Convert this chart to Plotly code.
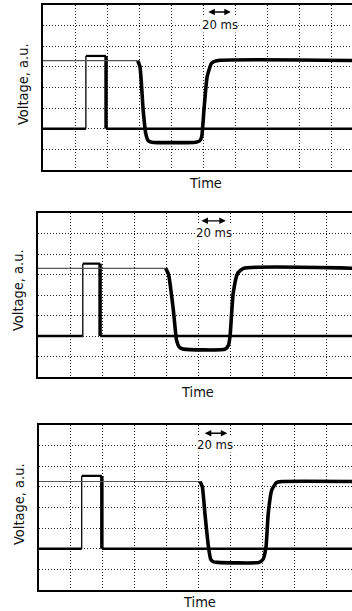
import plotly.graph_objects as go

W, H = 352, 611
FONT = "Liberation Sans Narrow, Arial Narrow, DejaVu Sans Condensed, sans-serif"

# ---- data (time in grid divisions, voltage in grid divisions) ----
# Panel 1
p1_trig_x = [0, 1.34, 1.34, 1.97, 1.97, 10]
p1_trig_y = [2.0, 2.0, 5.53, 5.53, 2.0, 2.0]
p1_thin_x = [0, 2.96]
p1_thin_y = [5.3, 5.3]
p1_resp_x = [2.96, 3.03, 3.13, 3.21, 3.29, 3.4, 4.78, 4.9, 4.96, 5.03, 5.13, 5.27, 5.43, 10]
p1_resp_y = [5.3, 5.01, 2.91, 1.78, 1.42, 1.35, 1.35, 1.42, 1.62, 2.91, 4.53, 5.18, 5.3, 5.3]
p1_arrow = [5.12, 5.87, 7.66]
p1_label = [5.53, 7.07]

# Panel 2
p2_trig_x = [0, 1.40, 1.40, 1.94, 1.94, 10]
p2_trig_y = [2.0, 2.0, 5.53, 5.53, 2.0, 2.0]
p2_thin_x = [0, 3.99]
p2_thin_y = [5.3, 5.3]
p2_resp_x = [3.99, 4.08, 4.23, 4.33, 4.42, 4.55, 5.85, 5.95, 6.0, 6.10, 6.24, 6.42, 10]
p2_resp_y = [5.3, 5.0, 3.26, 1.8, 1.45, 1.36, 1.36, 1.55, 1.97, 4.08, 5.06, 5.3, 5.3]
p2_arrow = [5.06, 5.87, 7.62]
p2_label = [5.5, 7.06]

# Panel 3
p3_trig_x = [0, 1.35, 1.35, 1.98, 1.98, 10]
p3_trig_y = [2.0, 2.0, 5.53, 5.53, 2.0, 2.0]
p3_thin_x = [0, 5.05]
p3_thin_y = [5.26, 5.26]
p3_resp_x = [5.05, 5.12, 5.20, 5.31, 5.38, 5.46, 5.6, 6.9, 7.02, 7.11, 7.18, 7.29, 7.44, 7.6, 10]
p3_resp_y = [5.26, 5.0, 3.72, 2.10, 1.5, 1.37, 1.34, 1.34, 1.5, 2.1, 3.72, 4.85, 5.21, 5.26, 5.26]
p3_arrow = [5.15, 5.9, 7.6]
p3_label = [5.52, 7.04]

# ---- panel geometry (pixels) ----
panels = [
    dict(left=43, top=5, bottom=170, trig=(p1_trig_x, p1_trig_y), thin=(p1_thin_x, p1_thin_y),
         resp=(p1_resp_x, p1_resp_y), arrow=p1_arrow, label=p1_label, time_xy=(205, 182.5), volt_xy=(23, 84)),
    dict(left=38, top=213, bottom=377, trig=(p2_trig_x, p2_trig_y), thin=(p2_thin_x, p2_thin_y),
         resp=(p2_resp_x, p2_resp_y), arrow=p2_arrow, label=p2_label, time_xy=(197, 391.5), volt_xy=(18, 290)),
    dict(left=38.5, top=425, bottom=590, trig=(p3_trig_x, p3_trig_y), thin=(p3_thin_x, p3_thin_y),
         resp=(p3_resp_x, p3_resp_y), arrow=p3_arrow, label=p3_label, time_xy=(199, 602), volt_xy=(19, 504)),
]

fig = go.Figure()
layout = dict(width=W, height=H, margin=dict(l=0, r=0, t=0, b=0),
              paper_bgcolor="white", plot_bgcolor="white", showlegend=False)
annotations = []

for i, p in enumerate(panels):
    n = "" if i == 0 else str(i + 1)
    xa, ya = "x" + n, "y" + n
    div = 32.0
    xmax = (W - p["left"]) / div
    layout["xaxis" + n] = dict(
        domain=[p["left"] / W, 1], range=[0, xmax], anchor=ya,
        showgrid=True, dtick=1, tick0=0, gridcolor="#222", gridwidth=1, griddash="1px,2px",
        showticklabels=False, ticks="", zeroline=False,
        showline=True, mirror=True, linecolor="black", linewidth=2, fixedrange=True)
    layout["yaxis" + n] = dict(
        domain=[1 - p["bottom"] / H, 1 - p["top"] / H], range=[0, 8], anchor=xa,
        showgrid=True, dtick=1, tick0=0, gridcolor="#222", gridwidth=1, griddash="1px,2px",
        showticklabels=False, ticks="", zeroline=False,
        showline=True, mirror=False, linecolor="black", linewidth=2, fixedrange=True)

    tx, ty = p["trig"]
    # trigger pulse: low, thin left edge, top, thick right edge, low
    fig.add_trace(go.Scatter(x=tx[0:2], y=ty[0:2], xaxis=xa, yaxis=ya, mode="lines",
                             line=dict(color="black", width=2.5), hoverinfo="skip"))
    fig.add_trace(go.Scatter(x=tx[1:3], y=ty[1:3], xaxis=xa, yaxis=ya, mode="lines",
                             line=dict(color="black", width=1.3), hoverinfo="skip"))
    fig.add_trace(go.Scatter(x=tx[2:4], y=ty[2:4], xaxis=xa, yaxis=ya, mode="lines",
                             line=dict(color="black", width=2.2), hoverinfo="skip"))
    fig.add_trace(go.Scatter(x=tx[3:5], y=ty[3:5], xaxis=xa, yaxis=ya, mode="lines",
                             line=dict(color="black", width=3.5), hoverinfo="skip"))
    fig.add_trace(go.Scatter(x=tx[4:], y=ty[4:], xaxis=xa, yaxis=ya, mode="lines",
                             line=dict(color="black", width=2.5), hoverinfo="skip"))

    hx, hy = p["thin"]
    fig.add_trace(go.Scatter(x=hx, y=hy, xaxis=xa, yaxis=ya, mode="lines",
                             line=dict(color="#555", width=1.2), hoverinfo="skip"))
    rx, ry = p["resp"]
    fig.add_trace(go.Scatter(x=rx, y=ry, xaxis=xa, yaxis=ya, mode="lines",
                             line=dict(color="black", width=3.6, shape="spline", smoothing=0.5),
                             hoverinfo="skip"))

    a0, a1, ay = p["arrow"]
    annotations.append(dict(x=a1, y=ay, ax=a0, ay=ay, xref=xa, yref=ya, axref=xa, ayref=ya,
                            text="", showarrow=True, arrowhead=2, arrowside="end+start",
                            arrowsize=1, arrowwidth=1.3, arrowcolor="black"))
    lx, ly = p["label"]
    annotations.append(dict(x=lx, y=ly, xref=xa, yref=ya, text="20 ms", showarrow=False,
                            bgcolor="white", borderpad=0,
                            font=dict(family=FONT, size=13, color="#111")))
    tx_, ty_ = p["time_xy"]
    annotations.append(dict(x=tx_ / W, y=1 - ty_ / H, xref="paper", yref="paper", text="Time",
                            showarrow=False, xanchor="center", yanchor="middle",
                            font=dict(family=FONT, size=14.5, color="#111")))
    vx, vy = p["volt_xy"]
    annotations.append(dict(x=vx / W, y=1 - vy / H, xref="paper", yref="paper", text="Voltage, a.u.",
                            showarrow=False, xanchor="center", yanchor="middle", textangle=-90,
                            font=dict(family=FONT, size=14.5, color="#111")))

layout["annotations"] = annotations
fig.update_layout(**layout)
fig.write_html("out.html", config={"displayModeBar": False},
               post_script="document.body.style.margin='0px';document.body.style.overflow='hidden';")
